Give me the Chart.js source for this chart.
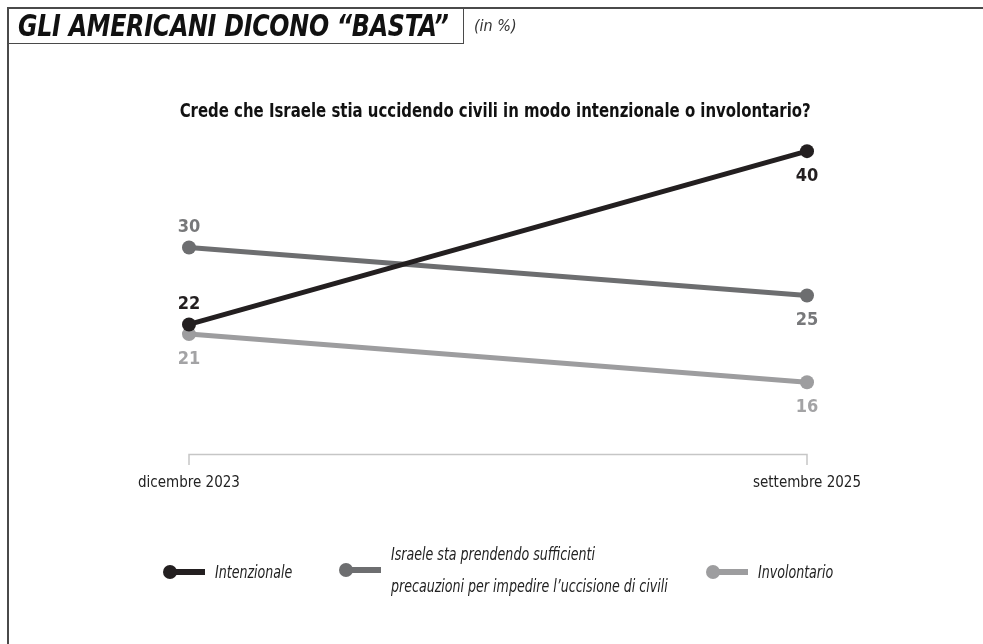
<!DOCTYPE html>
<html lang="it">
<head>
<meta charset="utf-8">
<script src="https://cdn.jsdelivr.net/npm/chart.js@4.4.1/dist/chart.umd.min.js"></script>
<style>
  html, body { margin: 0; padding: 0; background: #fff; }
  body { width: 983px; height: 644px; position: relative; overflow: hidden;
         font-family: "Liberation Sans Narrow", "DejaVu Sans Condensed", "Roboto", sans-serif; }
  #wrap { position: absolute; left: 0; top: 0; width: 983px; height: 644px; }
  #topline { position: absolute; left: 7px; top: 7px; width: 976px; height: 2px; background: #4a4a4a; }
  #leftline { position: absolute; left: 7px; top: 7px; width: 2px; height: 637px; background: #4a4a4a; }
  #titlebox { position: absolute; left: 7px; top: 7px; width: 456px; height: 36px;
              border-right: 1px solid #4a4a4a; border-bottom: 1px solid #4a4a4a; box-sizing: content-box; }
  #title { position: absolute; left: 18px; top: 10px; font-size: 30px; font-weight: bold; font-style: italic;
           color: #111; white-space: nowrap; line-height: 32px; letter-spacing: -0.3px;
           transform: scaleX(0.88); transform-origin: 0 50%; }
  #unit { position: absolute; left: 474px; top: 16px; font-size: 16px; font-style: italic; color: #333; }
  #subtitle { position: absolute; left: 0; width: 983px; top: 98px; text-align: center; font-size: 20px;
              font-weight: bold; color: #111; white-space: nowrap; }
  #subtitle span { display: inline-block; transform: translateX(4px) scaleX(0.83); transform-origin: 50% 50%; }
  canvas { position: absolute; left: 0; top: 0; }
  .leg { position: absolute; display: flex; align-items: center; font-style: italic; font-size: 18px; color: #222; }
  .mk { position: relative; width: 42px; height: 14px; margin-right: 10px; flex: none; }
  .mk .dot { position: absolute; left: 0; top: 0; width: 14px; height: 14px; border-radius: 50%; }
  .mk .bar { position: absolute; left: 7px; top: 4px; width: 35px; height: 6px; }
  .lt { transform: scaleX(0.78); transform-origin: 0 50%; white-space: nowrap; line-height: 32px; }
</style>
</head>
<body>
<div id="wrap">
  <canvas id="c" width="983" height="644"></canvas>
  <div id="topline"></div>
  <div id="leftline"></div>
  <div id="titlebox"></div>
  <div id="title">GLI AMERICANI DICONO “BASTA”</div>
  <div id="unit">(in %)</div>
  <div id="subtitle"><span>Crede che Israele stia uccidendo civili in modo intenzionale o involontario?</span></div>
  <div id="legend"></div>
</div>
<script>
// ---- data ----
const categories = ["dicembre 2023", "settembre 2025"];
const seriesNames = [
  "Intenzionale",
  "Israele sta prendendo sufficienti\nprecauzioni per impedire l’uccisione di civili",
  "Involontario"
];
const intenzionale = [22, 40];
const precauzioni = [30, 25];
const involontario = [21, 16];

// ---- styles ----
const colors = ["#231f20", "#6d6e70", "#9d9d9f"];
const labelColors = ["#231f20", "#77787a", "#a3a3a5"];
const labelSide = [["above", "below"], ["above", "below"], ["below", "below"]];
const values = [intenzionale, precauzioni, involontario];

const FONT = '"Liberation Sans Narrow", "DejaVu Sans Condensed", sans-serif';

const valueLabels = {
  id: "valueLabels",
  afterDatasetsDraw(chart) {
    const ctx = chart.ctx;
    ctx.save();
    ctx.font = "bold 18px " + FONT;
    ctx.textAlign = "center";
    ctx.textBaseline = "middle";
    chart.data.datasets.forEach((ds, i) => {
      const meta = chart.getDatasetMeta(i);
      meta.data.forEach((pt, j) => {
        const side = labelSide[i][j];
        const dy = side === "above" ? -20 : 25;
        ctx.fillStyle = labelColors[i];
        ctx.fillText(String(ds.data[j]), pt.x, pt.y + dy);
      });
    });
    ctx.restore();
  }
};

const bracket = {
  id: "bracket",
  afterDraw(chart) {
    const xs = chart.scales.x;
    const x0 = xs.getPixelForValue(0), x1 = xs.getPixelForValue(1);
    const y = 454.5;
    const ctx = chart.ctx;
    ctx.save();
    ctx.strokeStyle = "#c6c6c6";
    ctx.lineWidth = 1.5;
    ctx.beginPath();
    ctx.moveTo(x0, 465); ctx.lineTo(x0, y); ctx.lineTo(x1, y); ctx.lineTo(x1, 465);
    ctx.stroke();
    ctx.restore();
  }
};

new Chart(document.getElementById("c"), {
  type: "line",
  data: {
    labels: categories,
    datasets: values.map((v, i) => ({
      label: seriesNames[i],
      data: v,
      borderColor: colors[i],
      backgroundColor: colors[i],
      pointBackgroundColor: colors[i],
      pointBorderColor: colors[i],
      borderWidth: 5,
      pointRadius: 7,
      pointBorderWidth: 0,
      tension: 0
    }))
  },
  options: {
    responsive: false,
    animation: false,
    events: [],
    layout: { padding: { left: 189, right: 176, top: 103, bottom: 118 } },
    plugins: { legend: { display: false }, tooltip: { enabled: false }, title: { display: false } },
    scales: {
      x: {
        type: "category",
        offset: false,
        grid: { display: false, drawTicks: false },
        border: { display: false },
        ticks: { color: "#222", font: { family: FONT, size: 15 }, padding: 34, maxRotation: 0, autoSkip: false }
      },
      y: { display: false, min: 10, max: 45 }
    }
  },
  plugins: [valueLabels, bracket]
});

// ---- HTML legend ----
const legendPos = [{ x: 163, y: 572 }, { x: 339, y: 570 }, { x: 706, y: 572 }];
const legendEl = document.getElementById("legend");
seriesNames.forEach((name, i) => {
  const d = document.createElement("div");
  d.className = "leg";
  d.style.left = legendPos[i].x + "px";
  d.style.top = (legendPos[i].y) + "px";
  d.style.transform = "translateY(-50%)";
  const mk = document.createElement("div");
  mk.className = "mk";
  mk.innerHTML = '<div class="bar" style="background:' + colors[i] + '"></div><div class="dot" style="background:' + colors[i] + '"></div>';
  const t = document.createElement("div");
  t.className = "lt";
  t.innerHTML = name.replace("\n", "<br>");
  d.appendChild(mk); d.appendChild(t);
  legendEl.appendChild(d);
});
</script>
</body>
</html>
